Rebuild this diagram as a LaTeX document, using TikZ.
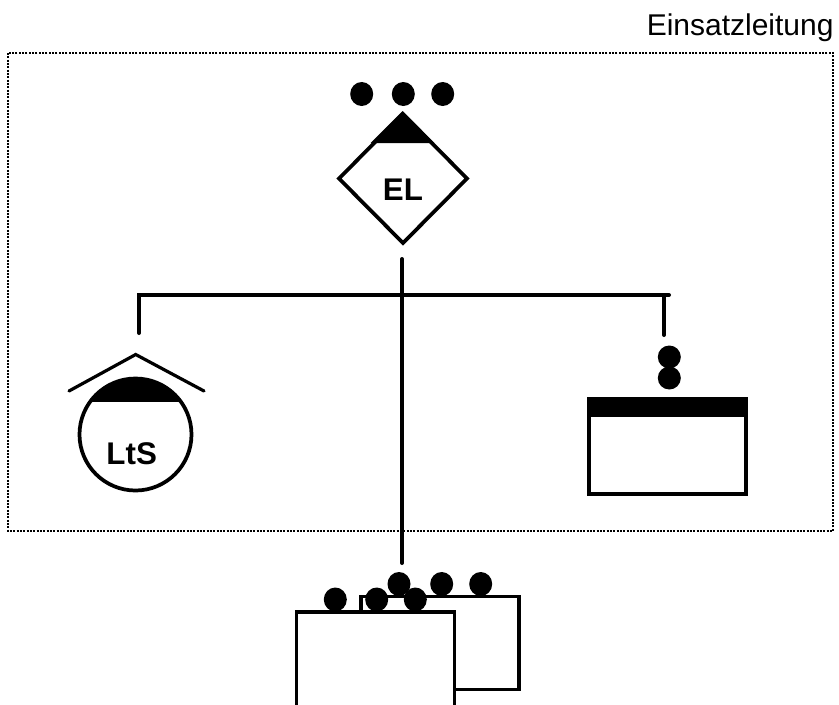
\documentclass[tikz,border=0pt]{standalone}
\usepackage{fontspec}
\setmainfont{Liberation Sans}
\usetikzlibrary{shapes.geometric}

\def\px{0.75pt}

\tikzset{
	conn/.style = {line width = 3pt, line cap = round},
	sym/.style = {draw, line width = 2.8pt, fill = white, inner sep = 0, outer sep = 0},
	boxnode/.style = {sym, rectangle, anchor = north west},
	dotmark/.style = {ellipse, fill = black, inner sep = 0, outer sep = 0, minimum width = 23*\px, minimum height = 24*\px},
	symtext/.style = {font = \fontsize{23.5pt}{27pt}\selectfont\bfseries, inner sep = 0}
}

\begin{document}
\begin{tikzpicture}[x = \px, y = -\px]
	\useasboundingbox (0, 0) rectangle (839, 704);

	\node [anchor = base west, inner sep = 0, font = \fontsize{22.5pt}{26pt}\selectfont] (title) at (646.5, 35) {Einsatzleitung};
	\draw [line width = 1.3pt, dash pattern = on 1.4pt off 1.1pt] (8, 53) rectangle (833, 531);

	% connectors
	\coordinate (elend) at (402, 259);
	\coordinate (downend) at (402, 563);
	\coordinate (leftend) at (139, 333);
	\coordinate (barright) at (669, 295);
	\coordinate (barstub) at (664, 295);
	\coordinate (rightend) at (664, 335);

	\draw [conn] (elend) -- (downend);
	\draw [conn] (leftend) |- (barright);
	\draw [conn] (barstub) -- (rightend);

	% Einsatzleiter
	\node [sym, diamond, aspect = 1, minimum width = 128*\px, minimum height = 129*\px] (el) at (403, 178.5) {};
	\fill (402.5, 111) -- (370.5, 143) -- (434.5, 143) -- cycle;
	\node [symtext] (ellabel) at (403, 190) {EL};
	\foreach \dx/\n in {361.7/a, 403.3/b, 442.7/c}
		\node [dotmark] (eldot\n) at (\dx, 94) {};

	% Leitstelle
	\coordinate (roofleft) at (69, 391);
	\coordinate (roofright) at (204, 391);
	\coordinate (rooftop) at (135.7, 354.5);
	\draw [line width = 2.4pt, line cap = round] (roofleft) -- (rooftop) -- (roofright);
	\node [sym, circle, minimum size = 112*\px] (lts) at (135.5, 434.5) {};
	\begin{scope}
		\clip (135.5, 434.5) circle [radius = 56];
		\fill (70, 370) rectangle (200, 401.7);
	\end{scope}
	\node [symtext] (ltslabel) at (131.7, 453.5) {LtS};

	% rechte Einheit
	\node [dotmark, minimum height = 23*\px] (rdota) at (669.3, 357) {};
	\node [dotmark, minimum height = 23*\px] (rdotb) at (669.3, 378) {};
	\node [boxnode, minimum width = 157.5*\px, minimum height = 95.5*\px] (rbox) at (588.7, 398.5) {};
	\fill (587, 397) rectangle (748, 416.7);

	% untere Einheiten
	\node [boxnode, minimum width = 158*\px, minimum height = 93*\px] (backbox) at (361, 596.5) {};
	\foreach \dx/\n in {399/a, 441.7/b, 480.7/c}
		\node [dotmark] (bdot\n) at (\dx, 584) {};
	\node [boxnode, minimum width = 158*\px, minimum height = 120*\px] (frontbox) at (296.5, 612) {};
	\foreach \dx/\n in {335.3/a, 376.7/b, 415.3/c}
		\node [dotmark] (fdot\n) at (\dx, 599.5) {};
\end{tikzpicture}
\end{document}
